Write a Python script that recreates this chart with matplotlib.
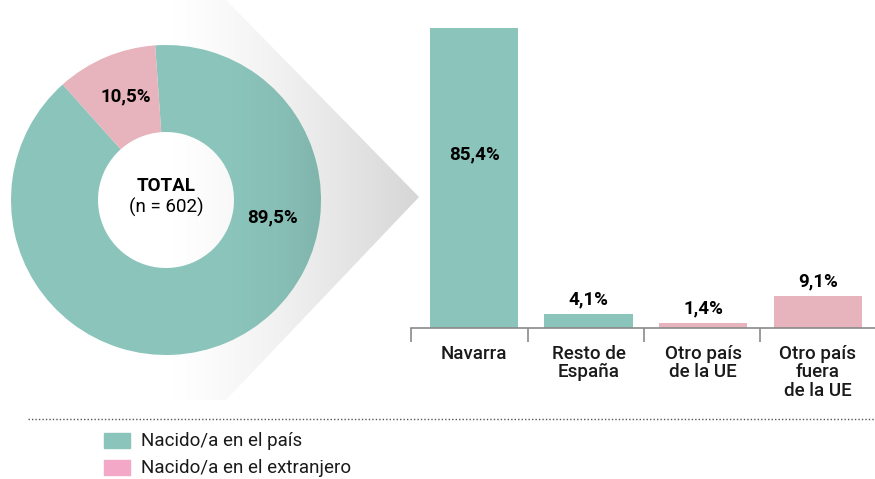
import numpy as np
import matplotlib.pyplot as plt
from matplotlib.patches import Polygon, Rectangle
from matplotlib.colors import LinearSegmentedColormap

plt.rcParams['font.family'] = ['Roboto', 'DejaVu Sans']

#*************** DATA ******************#
donut_labels = ['Nacido/a en el país', 'Nacido/a en el extranjero']
donut_values = [89.5, 10.5]
donut_text = ['89,5%', '10,5%']

categories = ['Navarra', 'Resto de\nEspaña', 'Otro país\nde la UE', 'Otro país\nfuera\nde la UE']
bar_values = [85.4, 4.1, 1.4, 9.1]
bar_text = ['85,4%', '4,1%', '1,4%', '9,1%']
bar_group = [0, 0, 1, 1]  # 0 = país, 1 = extranjero

TEAL = '#8bc4bb'
PINK = '#e7b3bc'
PINK_LEG = '#f4a8c8'

W, H = 875, 479
fig = plt.figure(figsize=(W / 100, H / 100), dpi=100)

# background axes in pixel coords (gradient "zoom" shape, dotted rule, legend)
bg = fig.add_axes([0, 0, 1, 1], zorder=0)
bg.set_xlim(0, W)
bg.set_ylim(H, 0)
bg.axis('off')

grad = np.linspace(0, 1, 256).reshape(1, -1) ** 1.3
cm = LinearSegmentedColormap.from_list('g', ['#ffffff', '#d6d6d6'])
im = bg.imshow(grad, cmap=cm, extent=[170, 420, 400, 0], aspect='auto', zorder=1)
shape = Polygon([(170, 0), (226, 0), (419, 197), (226, 400), (170, 400)],
                closed=True, transform=bg.transData)
im.set_clip_path(shape)

bg.plot([28, 875], [419, 419], color='#555555', lw=1, ls=(0, (1, 1.5)))

leg_cols = [TEAL, PINK_LEG]
for i, (lab, c) in enumerate(zip(donut_labels, leg_cols)):
    y = 433 + i * 27
    bg.add_patch(Rectangle((104, y), 26, 15, color=c))
    bg.text(141, y + 8, lab, fontsize=13.5, va='center', ha='left', color='#1a1a1a')

#*************** DONUT ******************#
cx, cy, R = 166, 200, 155
ax = fig.add_axes([(cx - 160) / W, (H - cy - 160) / H, 320 / W, 320 / H], zorder=2)
ax.patch.set_alpha(0)
ax.pie(donut_values, colors=[TEAL, PINK], startangle=94, counterclock=False,
       radius=1, wedgeprops=dict(width=1 - 68 / R, edgecolor='none'))
ax.set_xlim(-160 / R, 160 / R)
ax.set_ylim(-160 / R, 160 / R)
ax.set_aspect('equal')

# slight shading of the donut's right side, like the zoom shadow over it
ov = ax.imshow(np.linspace(0, 1, 256).reshape(1, -1) ** 2,
               cmap=LinearSegmentedColormap.from_list('o', [(0, 0, 0, 0), (0, 0, 0, 0.08)]),
               extent=[40 / R, 1, -1, 1], aspect='auto', zorder=3)
ov.set_clip_path(ax.patches[0])
ax.set_xlim(-160 / R, 160 / R)
ax.set_ylim(-160 / R, 160 / R)

ax.text(0, 14 / R, 'TOTAL', ha='center', va='center', fontsize=13.5, fontweight='bold', zorder=5)
ax.text(0, -7 / R, '(n = 602)', ha='center', va='center', fontsize=13.5, zorder=5)
ax.text(106 / R, -17 / R, donut_text[0], ha='center', va='center', fontsize=13.5,
        fontweight='bold', zorder=5)
ax.text(-40 / R, 104 / R, donut_text[1], ha='center', va='center', fontsize=13.5,
        fontweight='bold', zorder=5)

#*************** BARS ******************#
px_per_unit = 300 / 85.4
ymax = 94
base = 151
bx = fig.add_axes([411 / W, base / H, (W - 411) / W, ymax * px_per_unit / H], zorder=2)
bx.patch.set_alpha(0)
x = np.arange(len(categories))
cols = [TEAL if g == 0 else PINK for g in bar_group]
bx.bar(x, bar_values, width=0.77, color=cols)
bx.set_xlim(-0.55, 3.5)
bx.set_ylim(0, ymax)
for s in ['top', 'right', 'left']:
    bx.spines[s].set_visible(False)
bx.spines['bottom'].set_color('#8a8a8a')
bx.spines['bottom'].set_linewidth(1.2)
bx.set_yticks([])
bx.set_xticks([-0.55, 0.47, 1.48, 2.5])
bx.set_xticklabels([])
bx.tick_params(axis='x', length=10, width=1.2, color='#8a8a8a')
for xi, v, t in zip(x, bar_values, bar_text):
    if v > 50:
        bx.text(xi, v * 0.58, t, ha='center', va='center', fontsize=13.5, fontweight='bold')
    else:
        bx.text(xi, v + 1.5, t, ha='center', va='bottom', fontsize=13.5, fontweight='bold')
for xi, c in zip(x, categories):
    bx.annotate(c, (xi, 0), xytext=(0, -12), textcoords='offset points',
                ha='center', va='top', fontsize=13.5, fontweight='medium',
                linespacing=1.05, color='#1a1a1a')

fig.savefig('out.png', dpi=100)
